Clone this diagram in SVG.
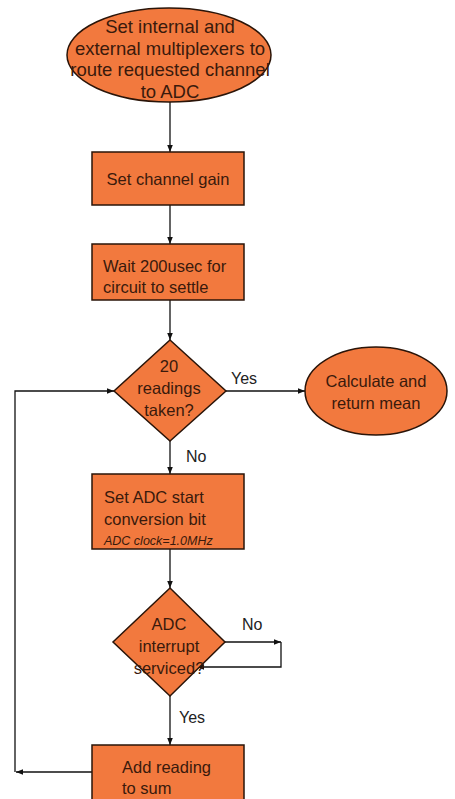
<svg xmlns="http://www.w3.org/2000/svg" width="455" height="799" viewBox="0 0 455 799">
<defs>
<style>
.shape{fill:#F2793E;stroke:#2a1408;stroke-width:1.5}
.t{font-family:"Liberation Sans",Arial,sans-serif;font-size:16.5px;fill:#3a1a0c}
.big{font-size:18.5px}
.c{text-anchor:middle}
.lbl{font-family:"Liberation Sans",Arial,sans-serif;font-size:16px;fill:#222}
.it{font-style:italic;font-size:12.5px}
.ln{fill:none;stroke:#111;stroke-width:1.3}
</style>
<marker id="ah" viewBox="0 0 10 10" refX="10" refY="5" markerWidth="7" markerHeight="7" orient="auto" markerUnits="userSpaceOnUse">
<path d="M0,1 L10,5 L0,9 Z" fill="#111"/>
</marker>
</defs>
<rect width="455" height="799" fill="#ffffff"/>
<g id="connectors">
<line class="ln" x1="170" y1="102" x2="170" y2="152" marker-end="url(#ah)"/>
<line class="ln" x1="170" y1="205" x2="170" y2="244" marker-end="url(#ah)"/>
<line class="ln" x1="170" y1="300" x2="170" y2="340" marker-end="url(#ah)"/>
<line class="ln" x1="226" y1="391" x2="305" y2="391" marker-end="url(#ah)"/>
<line class="ln" x1="170" y1="441" x2="170" y2="474" marker-end="url(#ah)"/>
<line class="ln" x1="170" y1="549" x2="170" y2="588" marker-end="url(#ah)"/>
<polyline class="ln" points="224,642 281,642" marker-end="url(#ah)"/>
<polyline class="ln" points="281,642 281,667 197,667" marker-end="url(#ah)"/>
<line class="ln" x1="170" y1="696" x2="170" y2="745" marker-end="url(#ah)"/>
<line class="ln" x1="92" y1="772" x2="16" y2="772" marker-end="url(#ah)"/>
<polyline class="ln" points="15,772 15,391 114,391" marker-end="url(#ah)"/>
<text class="lbl" x="231" y="384">Yes</text>
<text class="lbl" x="186" y="462">No</text>
<text class="lbl" x="242" y="630">No</text>
<text class="lbl" x="179" y="723">Yes</text>
</g>
<g id="n_route">
<ellipse class="shape" cx="169" cy="55" rx="102" ry="47"/>
<text class="t big c" x="170" y="33">Set internal and</text>
<text class="t big c" x="170" y="55">external multiplexers to</text>
<text class="t big c" x="170" y="76">route requested channel</text>
<text class="t big c" x="170" y="98">to ADC</text>
</g>
<g id="n_gain">
<rect class="shape" x="92" y="152" width="152" height="53"/>
<text class="t c" x="168" y="185">Set channel gain</text>
</g>
<g id="n_wait">
<rect class="shape" x="92" y="244" width="152" height="56"/>
<text class="t" x="103" y="272">Wait 200usec for</text>
<text class="t" x="103" y="293">circuit to settle</text>
</g>
<g id="n_readings">
<polygon class="shape" points="170,340 226,391 170,441 114,391"/>
<text class="t c" x="169" y="372">20</text>
<text class="t c" x="169" y="394">readings</text>
<text class="t c" x="169" y="416">taken?</text>
</g>
<g id="n_mean">
<ellipse class="shape" cx="376" cy="391" rx="71" ry="44"/>
<text class="t c" x="376" y="387">Calculate and</text>
<text class="t c" x="376" y="409">return mean</text>
</g>
<g id="n_start">
<rect class="shape" x="92" y="474" width="152" height="75"/>
<text class="t" x="104" y="503">Set ADC start</text>
<text class="t" x="104" y="525">conversion bit</text>
<text class="t it" x="104" y="545">ADC clock=1.0MHz</text>
</g>
<g id="n_interrupt">
<polygon class="shape" points="170,588 225,642 170,696 113,642"/>
<text class="t c" x="169" y="630">ADC</text>
<text class="t c" x="169" y="652">interrupt</text>
<text class="t c" x="169" y="674">serviced?</text>
</g>
<g id="n_sum">
<rect class="shape" x="92" y="745" width="152" height="60"/>
<text class="t" x="122" y="773">Add reading</text>
<text class="t" x="122" y="794">to sum</text>
</g>
</svg>
